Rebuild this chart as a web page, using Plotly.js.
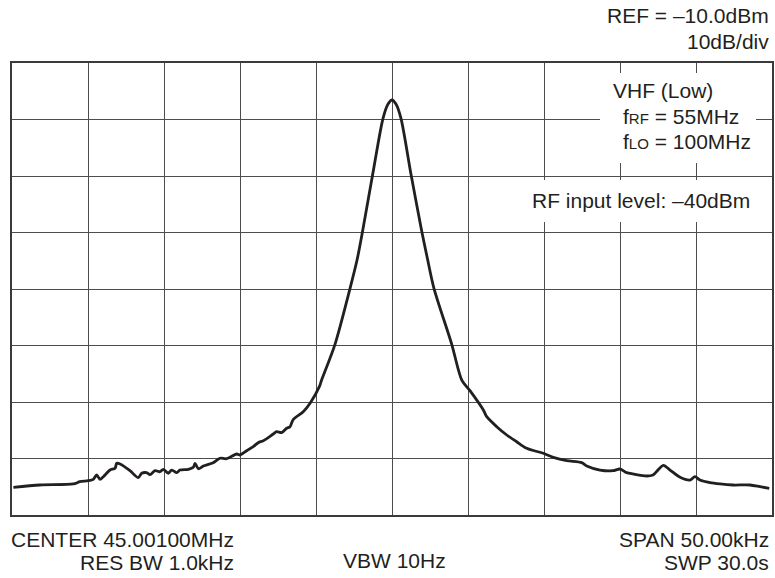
<!DOCTYPE html>
<html>
<head>
<meta charset="utf-8">
<script src="https://cdn.plot.ly/plotly-3.0.1.min.js"></script>
<style>html,body{margin:0;padding:0;background:#fff;}#chart{width:775px;height:578px;}</style>
</head>
<body>
<div id="chart"></div>
<script>
// Frequency offset from centre (kHz), span 50 kHz, 5 kHz/div
const freqOffsetKHz = [
  -24.91, -23.16, -20.97, -20.53, -19.98, -19.65, -19.43, -19.21, -18.99, -18.55,
  -18.22, -18.11, -17.89, -17.24, -16.69, -16.47, -16.14, -15.92, -15.59, -15.26,
  -15.05, -14.72, -14.49, -14.16, -13.95, -13.40, -13.07, -12.96, -12.74, -12.41,
  -11.76, -11.32, -10.88, -10.22, -10.00, -9.56, -9.13, -8.80, -8.47, -7.81,
  -7.59, -7.26, -6.93, -6.71, -6.49, -5.84, -5.39, -4.78, -4.63, -3.75,
  -2.76, -2.30, -1.93, -1.27, -0.59, -0.26, 0.00, 0.26, 0.59, 1.25,
  1.95, 2.35, 2.76, 3.93, 4.59, 5.13, 6.01, 6.23, 6.89, 7.55,
  8.20, 8.86, 9.95, 10.61, 11.49, 12.48, 12.81, 13.68, 14.54, 15.00,
  15.44, 15.86, 16.76, 17.17, 17.85, 18.29, 18.95, 19.61, 19.93, 20.26,
  20.92, 21.58, 22.43, 23.55, 24.21, 24.82
];
// Measured level (dBm), REF = -10 dBm, 10 dB/div
const levelDbm = [
  -85.10, -84.69, -84.51, -84.11, -83.93, -83.68, -82.92, -83.68, -83.22, -82.04,
  -81.73, -80.85, -80.97, -82.16, -83.40, -82.62, -82.51, -82.87, -82.16, -82.34,
  -81.91, -82.62, -82.04, -82.51, -82.04, -81.91, -81.56, -80.85, -81.81, -81.33,
  -80.74, -79.96, -80.04, -79.20, -79.38, -78.62, -77.91, -77.20, -76.85, -75.66,
  -75.26, -75.43, -74.65, -74.37, -73.06, -71.72, -70.23, -67.29, -66.11, -59.79,
  -49.88, -44.87, -39.68, -29.70, -19.79, -17.26, -16.55, -17.26, -19.79, -29.70,
  -39.68, -44.87, -49.88, -59.79, -66.11, -68.00, -71.42, -72.60, -74.37, -75.84,
  -77.03, -78.19, -79.08, -79.79, -80.39, -80.74, -81.33, -82.04, -82.16, -81.86,
  -82.51, -82.74, -83.10, -82.92, -81.20, -82.04, -83.33, -83.81, -83.22, -83.81,
  -84.28, -84.51, -84.69, -84.69, -84.99, -85.27
];
const xRange = [-25, 25];
const yRange = [-90, -10];

const headerLabels = ["REF = –10.0dBm", "10dB/div"];
const infoLabels = ["VHF (Low)", "f<span style=\"font-size:15px\">RF</span> = 55MHz", "f<span style=\"font-size:15px\">LO</span> = 100MHz", "RF input level: –40dBm"];
const footerLabels = ["CENTER 45.00100MHz", "RES BW 1.0kHz", "VBW 10Hz", "SPAN 50.00kHz", "SWP 30.0s"];

// layout geometry (pixels)
const W = 775, H = 578, L = 12, R = 772, T = 63, B = 515;
const px = x => (x - L) / (R - L);
const py = y => (B - y) / (B - T);
const FS = 21;
const ink = '#231f20';
const font = {family: 'Arial, "Liberation Sans", Helvetica, sans-serif', size: FS, color: ink};

function ann(text, x, baseline, xanchor) {
  return {text: text, xref: 'paper', yref: 'paper', x: px(x), y: py(baseline - 7),
    xanchor: xanchor, yanchor: 'middle', showarrow: false, font: font, align: xanchor === 'center' ? 'center' : xanchor};
}

const annotations = [
  ann(headerLabels[0], 771, 23, 'right'),
  ann(headerLabels[1], 771, 48, 'right'),
  ann(infoLabels[0], 611, 97, 'left'),
  ann(infoLabels[1], 621, 123, 'left'),
  ann(infoLabels[2], 621, 148, 'left'),
  ann(infoLabels[3], 530, 207, 'left'),
  ann(footerLabels[0], 236, 546, 'right'),
  ann(footerLabels[1], 236, 569, 'right'),
  ann(footerLabels[2], 394, 567, 'center'),
  ann(footerLabels[3], 771, 546, 'right'),
  ann(footerLabels[4], 771, 569, 'right')
];

const shapes = [
  {type: 'rect', xref: 'paper', yref: 'paper', x0: px(600), x1: px(756), y0: py(163), y1: py(73),
   fillcolor: '#ffffff', line: {width: 0}, layer: 'above'},
  {type: 'rect', xref: 'paper', yref: 'paper', x0: px(524), x1: px(767), y0: py(222), y1: py(180),
   fillcolor: '#ffffff', line: {width: 0}, layer: 'above'}
];

const trace = {
  x: freqOffsetKHz, y: levelDbm, type: 'scatter', mode: 'lines',
  line: {color: ink, width: 2.8, shape: 'spline', smoothing: 0.8}, hoverinfo: 'skip'
};

const axisCommon = {showticklabels: false, ticks: '', zeroline: false, showgrid: true,
  gridcolor: '#4d4d4d', gridwidth: 1, showline: true, mirror: true, linecolor: '#3a3a3a', linewidth: 2, fixedrange: true};

const layout = {
  width: W, height: H,
  margin: {l: L, r: W - R, t: T, b: H - B, pad: 0},
  paper_bgcolor: '#ffffff', plot_bgcolor: '#ffffff',
  showlegend: false,
  xaxis: Object.assign({}, axisCommon, {range: xRange, dtick: 5, tick0: 0}),
  yaxis: Object.assign({}, axisCommon, {range: yRange, dtick: 10, tick0: -90}),
  annotations: annotations,
  shapes: shapes,
  font: font
};

Plotly.newPlot('chart', [trace], layout, {displayModeBar: false, staticPlot: true});
</script>
</body>
</html>
